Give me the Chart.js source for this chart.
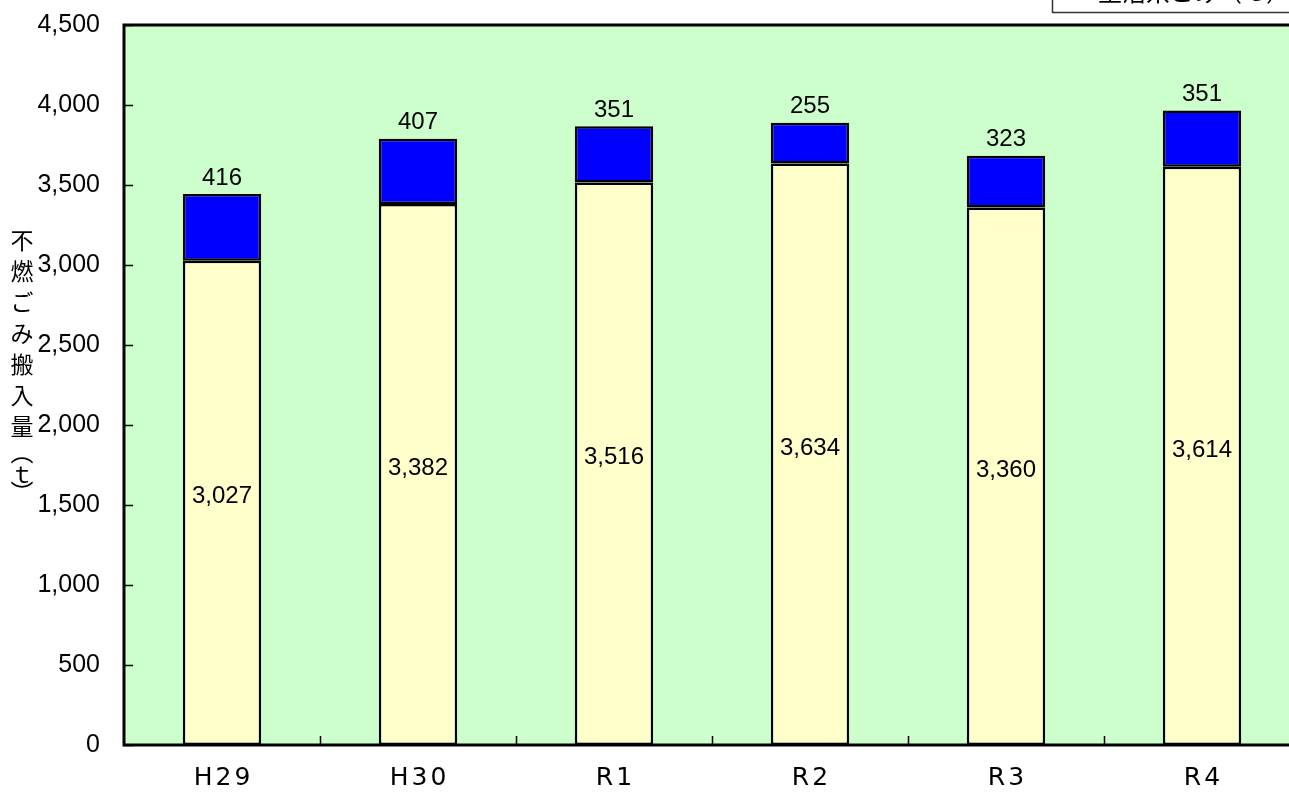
<!DOCTYPE html>
<html>
<head>
<meta charset="utf-8">
<script src="https://cdn.jsdelivr.net/npm/chart.js@4"></script>
<style>
  html, body { margin: 0; padding: 0; background: #fff; overflow: hidden; }
  #wrap { width: 1300px; height: 795px; }
</style>
</head>
<body>
<div id="wrap"><canvas id="chartLite" width="1300" height="795"></canvas></div>
<script>
const years = ['H29', 'H30', 'R1', 'R2', 'R3', 'R4'];
const lowerValues = [3027, 3382, 3516, 3634, 3360, 3614];
const upperValues = [416, 407, 351, 255, 323, 351];
const yTicks = [0, 500, 1000, 1500, 2000, 2500, 3000, 3500, 4000, 4500];
const axisTitle = ['不', '燃', 'ご', 'み', '搬', '入', '量', '︵', 'ｔ', '︶'];
const boxText = '生活系ごみ（ｔ）';

const numFont = "'Liberation Sans', Arial, sans-serif";
const catFont = "'DejaVu Sans', sans-serif";
const jpFont = "'Noto Sans CJK JP', sans-serif";

function fmt(v) {
    return v.toLocaleString('en-US');
}

// plot background, frame, inward ticks, labels, axis title
const decor = {
    id: 'decor',
    afterLayout(chart) {
        // slightly spaced category labels like the original
        const s = chart.scales.x;
        if (!s._spaced) {
            const orig = s.drawLabels.bind(s);
            s.drawLabels = function (area) {
                const c = this.ctx;
                c.save();
                c.letterSpacing = '3px';
                c.translate(1.5, 0);
                orig(area);
                c.restore();
            };
            s._spaced = true;
        }
    },
    beforeDatasetsDraw(chart) {
        const a = chart.chartArea;
        const c = chart.ctx;
        c.save();
        c.fillStyle = '#CCFFCC';
        c.fillRect(a.left, a.top, a.right - a.left, a.bottom - a.top);
        c.restore();
    },
    afterDatasetsDraw(chart) {
        const a = chart.chartArea;
        const c = chart.ctx;
        const y = chart.scales.y;
        const x = chart.scales.x;
        c.save();
        c.strokeStyle = '#000';
        c.lineWidth = 1.5;
        // y tick marks (inside)
        yTicks.forEach(t => {
            const py = Math.round(y.getPixelForValue(t)) + 0.5;
            c.beginPath();
            c.moveTo(a.left, py);
            c.lineTo(a.left + 9, py);
            c.stroke();
        });
        // x tick marks at category boundaries (inside)
        for (let i = 1; i < years.length; i++) {
            const px = Math.round((x.getPixelForValue(i - 1) + x.getPixelForValue(i)) / 2) + 0.5;
            c.beginPath();
            c.moveTo(px, a.bottom);
            c.lineTo(px, a.bottom - 9);
            c.stroke();
        }
        // frame
        c.lineWidth = 3;
        c.beginPath();
        c.moveTo(a.right + 5, a.top);
        c.lineTo(a.left, a.top);
        c.lineTo(a.left, a.bottom);
        c.lineTo(a.right + 5, a.bottom);
        c.stroke();

        // value labels
        c.fillStyle = '#000';
        c.font = '24px ' + numFont;
        c.textAlign = 'center';
        c.textBaseline = 'middle';
        const m0 = chart.getDatasetMeta(0);
        const m1 = chart.getDatasetMeta(1);
        m0.data.forEach((bar, i) => {
            c.fillText(fmt(lowerValues[i]), bar.x, (bar.y + bar.base) / 2 - 6);
        });
        m1.data.forEach((bar, i) => {
            c.fillText(fmt(upperValues[i]), bar.x, bar.y - 16);
        });

        // vertical axis title
        c.font = '23px ' + jpFont;
        const ys = [240, 271, 302, 333, 364, 395, 426, 452, 474, 492];
        axisTitle.forEach((ch, i) => {
            c.fillText(ch, 22, ys[i]);
        });

        // clipped note box, top right
        c.fillStyle = '#fff';
        c.fillRect(1052, -5, 260, 17);
        c.strokeStyle = '#333';
        c.lineWidth = 1.5;
        c.strokeRect(1052.5, -5, 260, 17.5);
        c.fillStyle = '#000';
        c.font = '24px ' + jpFont;
        c.textAlign = 'left';
        c.textBaseline = 'alphabetic';
        c.fillText(boxText, 1098, 1);
        c.restore();
    }
};

const data = {
    labels: years,
    datasets: [{
        label: 'lower',
        data: lowerValues,
        backgroundColor: '#FFFFCC',
        borderColor: '#000',
        borderWidth: 2.5,
        borderSkipped: false,
        categoryPercentage: 1,
        barPercentage: 0.4
    }, {
        label: 'upper',
        data: upperValues,
        backgroundColor: '#0000FF',
        borderColor: '#000',
        borderWidth: 2.5,
        borderSkipped: false,
        categoryPercentage: 1,
        barPercentage: 0.4
    }]
};

const options = {
    responsive: false,
    animation: false,
    layout: {
        padding: { top: 25, left: 0, right: 0, bottom: 0 }
    },
    plugins: {
        legend: { display: false },
        tooltip: { enabled: false }
    },
    scales: {
        x: {
            stacked: true,
            grid: { display: false, drawTicks: false },
            border: { display: false },
            ticks: {
                color: '#000',
                font: { family: catFont, size: 25 },
                padding: 18
            },
            afterFit(scale) {
                scale.height = 50;
                scale.paddingLeft = 0;
                scale.paddingRight = 0;
            }
        },
        y: {
            stacked: true,
            min: 0,
            max: 4500,
            grid: { display: false, drawTicks: false },
            border: { display: false },
            ticks: {
                stepSize: 500,
                color: '#000',
                font: { family: numFont, size: 25 },
                padding: 24,
                callback: v => fmt(v)
            },
            afterFit(scale) {
                scale.width = 124;
                scale.paddingTop = 0;
                scale.paddingBottom = 0;
            }
        }
    }
};

const ctx = document.getElementById('chartLite').getContext('2d');
const myChart = new Chart(ctx, {
    type: 'bar',
    data: data,
    options: options,
    plugins: [decor]
});
</script>
</body>
</html>
